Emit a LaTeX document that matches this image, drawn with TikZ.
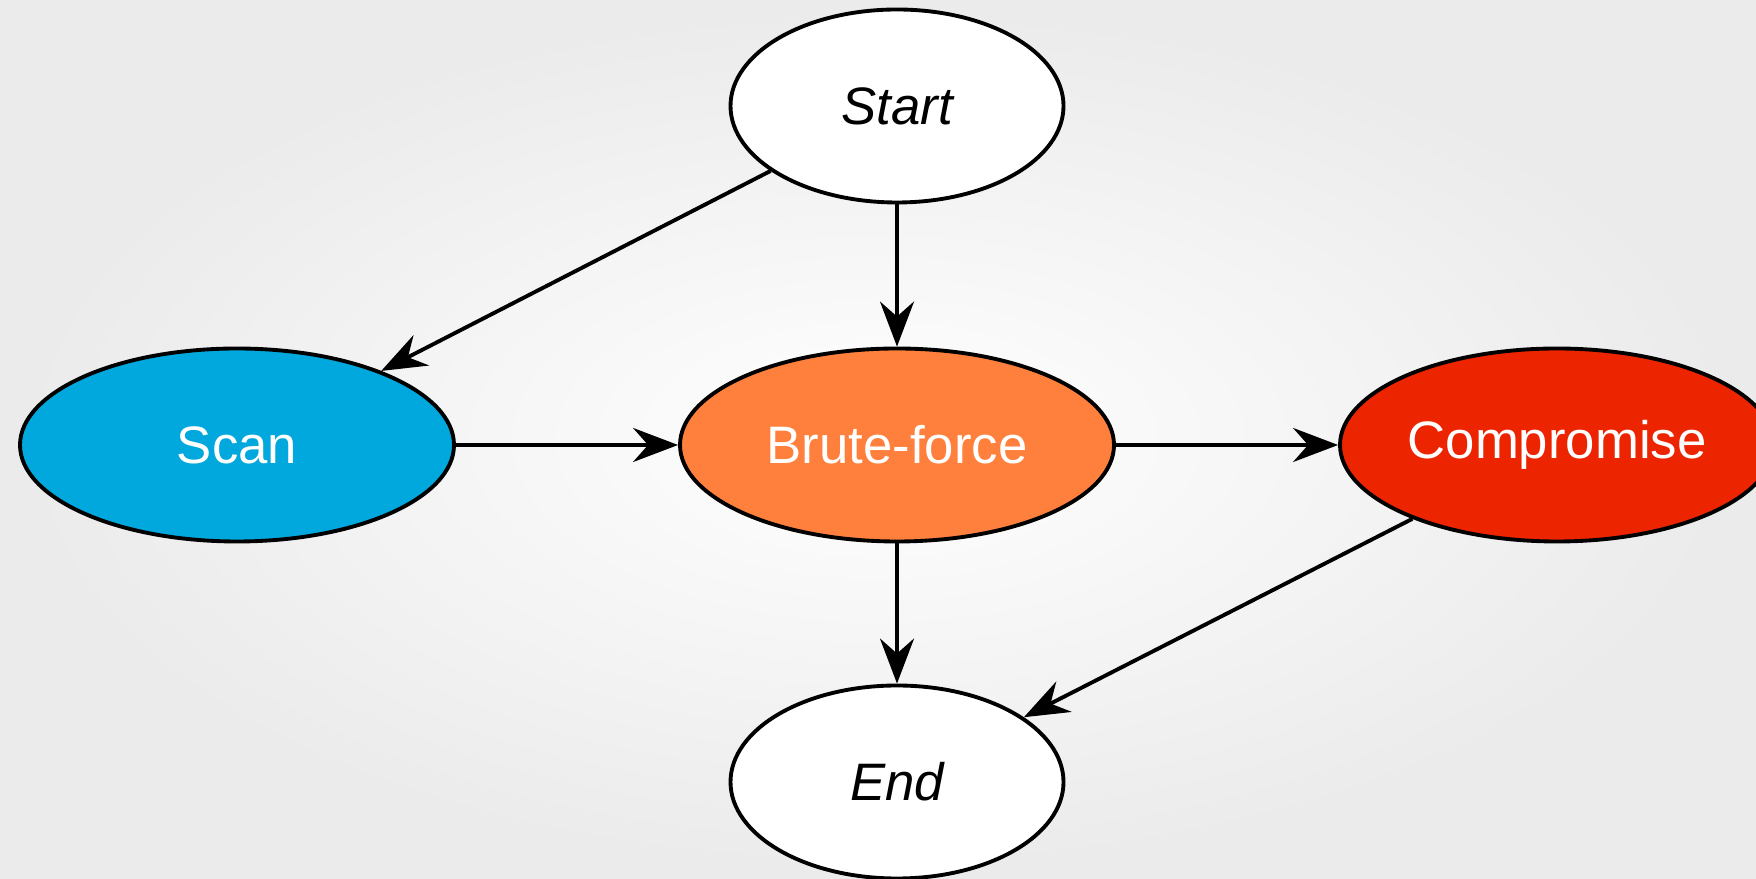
\documentclass[tikz,border=0pt]{standalone}
\usepackage{fontspec}
\setmainfont{Liberation Sans}
\usetikzlibrary{shapes.geometric,arrows.meta}
\definecolor{scanblue}{RGB}{0,168,221}
\definecolor{bruteorange}{RGB}{255,128,60}
\definecolor{compred}{RGB}{237,36,0}
\begin{document}
\begin{tikzpicture}[node distance=6.6cm,line width=1.1pt,
  >={Stealth[length=4.5mm,width=3.4mm,inset=1.5mm]}]
\tikzstyle{stage}=[ellipse,draw,inner sep=0pt,minimum width=4.34cm,
  minimum height=1.93cm,font=\fontsize{15}{18}\selectfont,text=white]
\tikzstyle{terminal}=[stage,fill=white,text=black,minimum width=3.33cm,
  font=\fontsize{15}{18}\selectfont\itshape]
% backdrop
\fill[inner color=white,outer color=black!8] (0,0) rectangle (17.56,8.78);
\useasboundingbox (0,0) rectangle (17.56,8.78);
\node[stage,fill=bruteorange] (brute) at (8.97,4.33) {Brute-force};
\node[stage,fill=scanblue] (scan) [left of=brute] {Scan};
\node[stage,fill=compred] (comp) [right of=brute] {Compromise};
\node[terminal] (start) [above of=brute,node distance=3.39cm] {Start};
\node[terminal] (end) [below of=brute,node distance=3.37cm] {End};
\draw[->] (start) -- (scan);
\draw[->] (start) -- (brute);
\draw[->] (scan) -- (brute);
\draw[->] (brute) -- (comp);
\draw[->] (brute) -- (end);
\draw[->] (comp) -- (end);
\end{tikzpicture}
\end{document}
